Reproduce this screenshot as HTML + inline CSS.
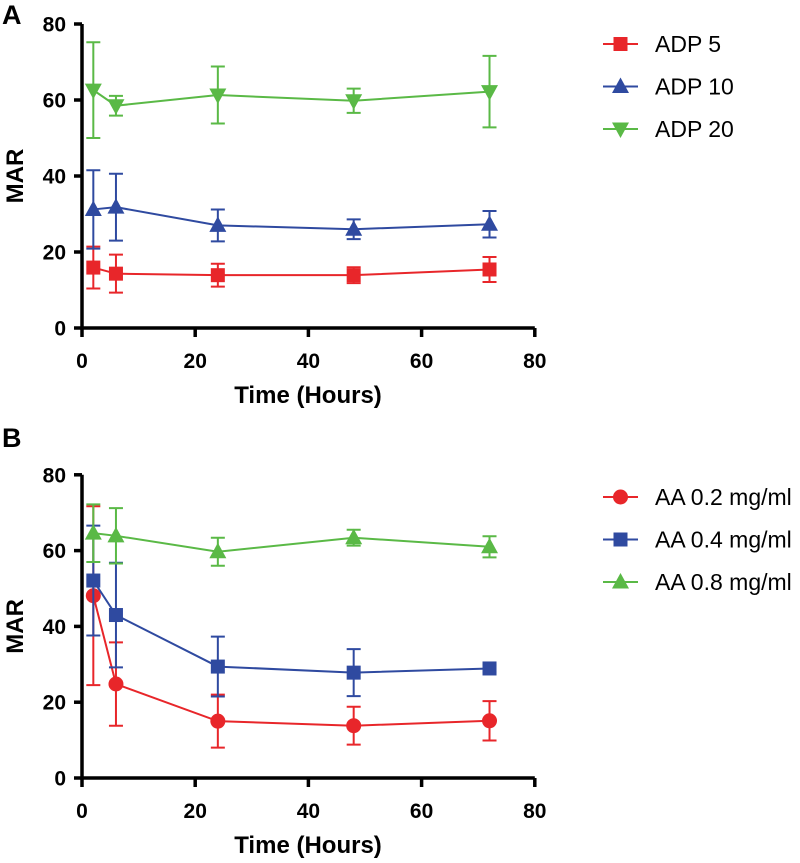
<!DOCTYPE html>
<html><head><meta charset="utf-8"><style>
html,body{margin:0;padding:0;background:#fff;}
svg{display:block;font-family:"Liberation Sans",Arial,sans-serif;}
</style></head><body>
<svg id="chart" width="800" height="863" viewBox="0 0 800 863" xmlns="http://www.w3.org/2000/svg"></svg>
<script>
const times = [2, 6, 24, 48, 72];
const xTicks = [0, 20, 40, 60, 80];
const yTicks = [0, 20, 40, 60, 80];
const aLabels = ["ADP 5", "ADP 10", "ADP 20"];
const adp5 = [15.9, 14.3, 13.9, 13.9, 15.4];
const adp5Err = [5.5, 5.0, 3.0, 2.1, 3.3];
const adp10 = [31.2, 31.8, 27.0, 26.0, 27.3];
const adp10Err = [10.3, 8.8, 4.2, 2.6, 3.5];
const adp20 = [62.6, 58.5, 61.3, 59.8, 62.2];
const adp20Err = [12.6, 2.6, 7.5, 3.2, 9.4];
const bLabels = ["AA 0.2 mg/ml", "AA 0.4 mg/ml", "AA 0.8 mg/ml"];
const aa02 = [48.1, 24.8, 15.0, 13.8, 15.1];
const aa02Err = [23.6, 11.0, 7.0, 5.0, 5.2];
const aa04 = [52.1, 43.0, 29.4, 27.8, 28.9];
const aa04Err = [14.5, 13.8, 7.9, 6.2, 1.0];
const aa08 = [64.6, 63.9, 59.7, 63.4, 61.0];
const aa08Err = [7.6, 7.3, 3.7, 2.1, 2.8];

const NS = "http://www.w3.org/2000/svg";
const svg = document.getElementById("chart");
function mk(tag, attrs, parent, text) {
  const e = document.createElementNS(NS, tag);
  for (const k in attrs) e.setAttribute(k, attrs[k]);
  if (text !== undefined) e.textContent = text;
  (parent || svg).appendChild(e);
  return e;
}
const RED = "#e8262a", BLUE = "#2f4aa0", GREEN = "#5ab946";

function marker(g, shape, cx, cy, color) {
  let m;
  if (shape === "square") m = mk("rect", {x: cx-7, y: cy-7, width: 14, height: 14, fill: color}, g);
  else if (shape === "circle") m = mk("circle", {cx: cx, cy: cy, r: 7.5, fill: color}, g);
  else if (shape === "up") m = mk("polygon", {points: `${cx},${cy-9} ${cx-8.5},${cy+6.5} ${cx+8.5},${cy+6.5}`, fill: color}, g);
  else m = mk("polygon", {points: `${cx},${cy+9} ${cx-8.5},${cy-6.5} ${cx+8.5},${cy-6.5}`, fill: color}, g);
  return m;
}

function panel(id, y0px, pxPerUnit, series, labels, legendY, letter, letterY) {
  const x = v => 82 + v * 5.66;
  const y = v => y0px - v * pxPerUnit;
  const g = mk("g", {});
  
  
  const lt = mk("text", {x: 2, y: letterY + 9, "font-size": 27, "font-weight": "bold"}, g, letter);
  
  
  series.forEach((s, si) => {
    const sg = mk("g", {}, g);
    
    
    const pts = times.map((t, i) => `${x(t)},${y(s.vals[i])}`).join(" ");
    mk("polyline", {points: pts, fill: "none", stroke: s.color, "stroke-width": 2}, sg);
    times.forEach((t, i) => {
      const cx = x(t), top = y(s.vals[i] + s.err[i]), bot = y(s.vals[i] - s.err[i]);
      const eb = mk("path", {d: `M${cx},${top}V${bot}M${cx-7},${top}H${cx+7}M${cx-7},${bot}H${cx+7}`, stroke: s.color, "stroke-width": 2, fill: "none"}, sg);
      
      
      const m = marker(sg, s.shape, cx, y(s.vals[i]), s.color);
      
      
    });
    const lg = mk("g", {}, g);
    
    
    const ly = legendY + si * 42.5;
    mk("line", {x1: 603, x2: 638, y1: ly, y2: ly, stroke: s.color, "stroke-width": 2}, lg);
    marker(lg, s.shape, 620.5, ly, s.color);
    mk("text", {x: 655, y: ly + 8, "font-size": 23}, lg, labels[si]);
  });
  const ax = mk("g", {}, g);
  
  
  mk("path", {d: `M82,${y(80)}V${y(0)}H${x(80)}`, stroke: "#000", "stroke-width": 3.5, fill: "none"}, ax);
  yTicks.forEach(v => {
    mk("line", {x1: 74, x2: 82, y1: y(v), y2: y(v), stroke: "#000", "stroke-width": 3.5}, ax);
    const t = mk("text", {x: 66, y: y(v) + 7.5, "font-size": 21, "font-weight": "bold", "text-anchor": "end"}, ax, String(v));
    
    
  });
  xTicks.forEach(v => {
    mk("line", {x1: x(v), x2: x(v), y1: y(0), y2: y(0) + 9, stroke: "#000", "stroke-width": 3.5}, ax);
    const t = mk("text", {x: x(v), y: y(0) + 40, "font-size": 21, "font-weight": "bold", "text-anchor": "middle"}, ax, String(v));
    
    
  });
  const xt = mk("text", {x: 308, y: y(0) + 75, "font-size": 24, "font-weight": "bold", "text-anchor": "middle"}, ax, "Time (Hours)");
  
  
  const yc = (y(0) + y(80)) / 2;
  const yt = mk("text", {x: 23, y: yc, "font-size": 24, "font-weight": "bold", "text-anchor": "middle", transform: `rotate(-90 23 ${yc})`}, ax, "MAR");
  
  
}

panel("a", 328, 3.8, [
  {vals: adp5, err: adp5Err, color: RED, shape: "square"},
  {vals: adp10, err: adp10Err, color: BLUE, shape: "up"},
  {vals: adp20, err: adp20Err, color: GREEN, shape: "down"}
], aLabels, 44, "A", 15);
panel("b", 778, 3.79, [
  {vals: aa02, err: aa02Err, color: RED, shape: "circle"},
  {vals: aa04, err: aa04Err, color: BLUE, shape: "square"},
  {vals: aa08, err: aa08Err, color: GREEN, shape: "up"}
], bLabels, 497, "B", 438);
</script>
</body></html>
